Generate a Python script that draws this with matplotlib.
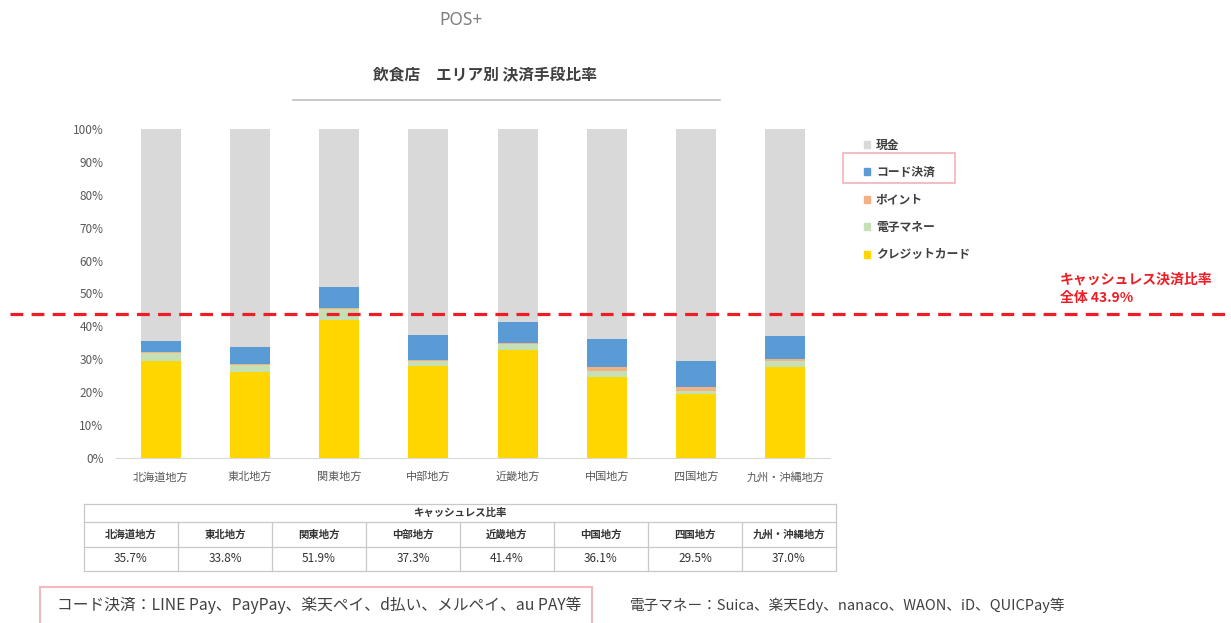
import numpy as np
import matplotlib
matplotlib.use('Agg')
import matplotlib.pyplot as plt
from matplotlib.lines import Line2D
from matplotlib.patches import Rectangle, Patch
from matplotlib.transforms import blended_transform_factory

plt.rcParams['font.family'] = ['Noto Sans CJK JP', 'DejaVu Sans']

# data (%)
regions = ['北海道地方', '東北地方', '関東地方', '中部地方', '近畿地方', '中国地方', '四国地方', '九州・沖縄地方']
credit = [29.5, 26.0, 41.8, 28.0, 32.8, 24.6, 19.6, 27.7]
emoney = [2.5, 2.3, 3.5, 1.5, 2.0, 1.8, 0.8, 1.8]
point = [0.2, 0.2, 0.2, 0.3, 0.2, 1.3, 1.2, 0.7]
code = [3.5, 5.3, 6.4, 7.5, 6.4, 8.4, 7.9, 6.8]
cash = [64.3, 66.2, 48.1, 62.7, 58.6, 63.9, 70.5, 63.0]
cashless_rate = ['35.7%', '33.8%', '51.9%', '37.3%', '41.4%', '36.1%', '29.5%', '37.0%']
overall = 43.9

W, H = 1231, 623
def fx(x):
    return x / W
def fy(y):
    return 1 - y / H

fig = plt.figure(figsize=(W / 100, H / 100), dpi=100)
ax = fig.add_axes([fx(116), fy(458), fx(830) - fx(116), fy(129) - fy(458)])

colors = {'現金': '#d9d9d9', 'コード決済': '#5b9bd5', 'ポイント': '#f4b183',
          '電子マネー': '#c5e0b4', 'クレジットカード': '#ffd600'}

x = np.arange(len(regions))
bottom = np.zeros(len(regions))
series = [('クレジットカード', credit), ('電子マネー', emoney), ('ポイント', point),
          ('コード決済', code), ('現金', cash)]
for name, vals in series:
    ax.bar(x, vals, 0.45, bottom=bottom, color=colors[name], label=name)
    bottom += np.array(vals)

ax.set_xlim(-0.5, 7.5)
ax.set_ylim(0, 100)
ax.set_yticks(range(0, 101, 10))
ax.set_yticklabels([f'{v}%' for v in range(0, 101, 10)], fontsize=8.5, color='#595959')
ax.set_xticks(x)
ax.set_xticklabels(regions, fontsize=8, color='#595959')
ax.tick_params(axis='both', length=0)
ax.tick_params(axis='x', pad=10)
ax.tick_params(axis='y', pad=9)
for s in ['top', 'right', 'left']:
    ax.spines[s].set_visible(False)
ax.spines['bottom'].set_color('#d9d9d9')

# overall cashless line across the whole figure
tr = blended_transform_factory(fig.transFigure, ax.transData)
ax.add_line(Line2D([fx(10), 1.0], [overall, overall], transform=tr, color='#ee1c25',
                   lw=2.3, dashes=(4, 2.6), clip_on=False, zorder=5))
fig.text(fx(1060), fy(280), 'キャッシュレス決済比率', color='#ee1c25', fontsize=10,
         fontweight='bold', va='center', ha='left')
fig.text(fx(1060), fy(298), f'全体 {overall}%', color='#ee1c25', fontsize=10,
         fontweight='bold', va='center', ha='left')

# legend
order = ['現金', 'コード決済', 'ポイント', '電子マネー', 'クレジットカード']
handles = [Patch(color=colors[n], label=n) for n in order]
leg = fig.legend(handles=handles, loc='upper left', bbox_to_anchor=(fx(853), fy(128)),
                 frameon=False, fontsize=8.5, handlelength=0.55, handleheight=0.55,
                 handletextpad=0.5, labelspacing=1.22, labelcolor='#404040')
for t in leg.get_texts():
    t.set_fontweight('bold')
fig.add_artist(Rectangle((fx(843), fy(183)), fx(955) - fx(843), fy(153) - fy(183),
                         fill=False, ec='#f2b8bd', lw=1.3, transform=fig.transFigure))

# title
fig.text(fx(485), fy(75), '飲食店　エリア別 決済手段比率', fontsize=11.3, fontweight='bold',
         color='#404040', ha='center', va='center')
fig.add_artist(Line2D([fx(293), fx(720)], [fy(100), fy(100)], color='#bfbfbf', lw=1.2))
fig.text(fx(461), fy(20), 'POS+', fontsize=12.5, color='#808080', ha='center', va='center',
         family=['Noto Sans', 'DejaVu Sans'])

# table under the chart
tl, tr_, ttop, tmid1, tmid2, tbot = 84, 836, 504, 522, 547, 571
grid = '#c8c8c8'
for yy in [ttop, tmid1, tmid2, tbot]:
    fig.add_artist(Line2D([fx(tl), fx(tr_)], [fy(yy), fy(yy)], color=grid, lw=0.9))
colw = (tr_ - tl) / len(regions)
for i in range(len(regions) + 1):
    xx = tl + i * colw
    y0 = ttop if i in (0, len(regions)) else tmid1
    fig.add_artist(Line2D([fx(xx), fx(xx)], [fy(y0), fy(tbot)], color=grid, lw=0.9))
fig.text(fx((tl + tr_) / 2), fy((ttop + tmid1) / 2), 'キャッシュレス比率', fontsize=7.5,
         fontweight='bold', color='#333333', ha='center', va='center')
for i, (r, v) in enumerate(zip(regions, cashless_rate)):
    cx = tl + (i + 0.5) * colw
    fig.text(fx(cx), fy((tmid1 + tmid2) / 2), r, fontsize=7.5, fontweight='bold',
             color='#333333', ha='center', va='center')
    fig.text(fx(cx), fy((tmid2 + tbot) / 2), v, fontsize=8.5, color='#333333',
             ha='center', va='center')

# footnotes
fig.text(fx(57), fy(605), 'コード決済：LINE Pay、PayPay、楽天ペイ、d払い、メルペイ、au PAY等',
         fontsize=11.3, color='#404040', ha='left', va='center')
fig.add_artist(Rectangle((fx(40), fy(626)), fx(592) - fx(40), fy(587) - fy(626),
                         fill=False, ec='#f2b8bd', lw=1.5, transform=fig.transFigure))
fig.text(fx(630), fy(605), '電子マネー：Suica、楽天Edy、nanaco、WAON、iD、QUICPay等',
         fontsize=10.5, color='#404040', ha='left', va='center')

fig.savefig('out.png', dpi=100)
